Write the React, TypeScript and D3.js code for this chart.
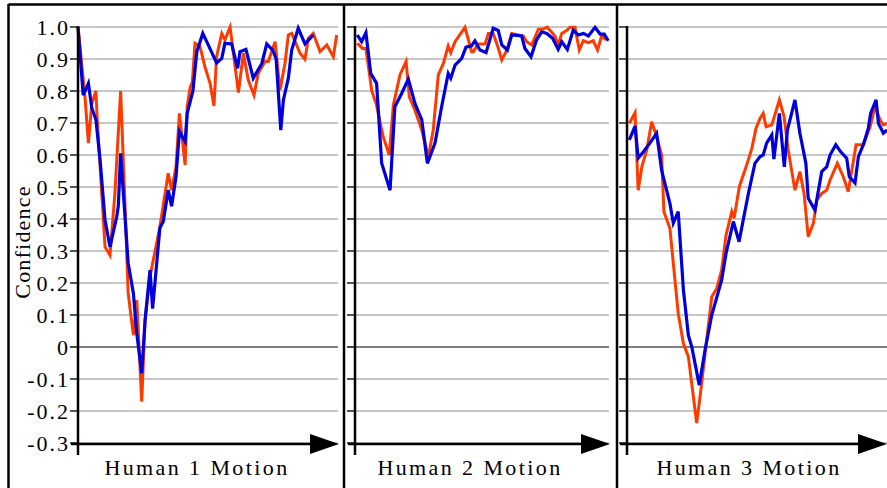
import React from "react";
import * as d3 from "d3";

// [frame, confidence] pairs, frame runs 0..100 across each panel
const human1Red: [number, number][] = [
  [0, 1.0], [2.7, 0.78], [4.0, 0.637], [5.3, 0.76], [6.9, 0.8], [7.4, 0.71], [10.4, 0.313], [12.3, 0.287],
  [14.2, 0.48], [16.4, 0.8], [18.1, 0.44], [19.3, 0.168], [21.3, 0.037], [22.6, 0.147], [24.5, -0.171],
  [25.8, 0.084], [27.7, 0.22], [31.5, 0.376], [34.7, 0.543], [36.0, 0.49], [37.7, 0.563], [39.0, 0.73],
  [41.2, 0.569], [42.0, 0.751], [43.1, 0.81], [44.0, 0.83], [45.0, 0.949], [46.9, 0.94], [48.8, 0.876],
  [50.8, 0.824], [52.3, 0.753], [53.3, 0.907], [55.3, 0.98], [56.5, 0.96], [58.5, 1.0], [61.7, 0.795],
  [63.6, 0.918], [65.5, 0.834], [67.7, 0.787], [69.3, 0.855], [71.9, 0.892], [73.2, 0.892], [75.8, 0.954],
  [77.7, 0.803], [79.6, 0.886], [80.9, 0.975], [82.2, 0.98], [85.4, 0.918], [87.3, 0.899], [88.6, 0.965],
  [90.5, 0.98], [93.1, 0.923], [95.7, 0.944], [98.2, 0.907], [99.5, 0.975],
];
const human1Blue: [number, number][] = [
  [0, 1.0], [2.0, 0.787], [4.0, 0.824], [5.3, 0.747], [6.9, 0.71], [8.5, 0.584], [10.4, 0.397], [12.3, 0.313],
  [14.9, 0.407], [15.5, 0.44], [16.4, 0.605], [19.3, 0.262], [21.3, 0.168], [22.6, 0.043], [24.5, -0.082],
  [25.8, 0.084], [27.7, 0.24], [28.7, 0.12], [31.5, 0.372], [32.8, 0.392], [34.7, 0.49], [36.0, 0.44],
  [37.7, 0.532], [39.0, 0.673], [41.2, 0.642], [42.0, 0.73], [44.2, 0.8], [45.7, 0.923], [48.0, 0.98],
  [50.1, 0.944], [53.3, 0.888], [55.3, 0.902], [56.5, 0.949], [59.1, 0.947], [61.4, 0.871], [62.3, 0.923],
  [64.6, 0.93], [67.4, 0.84], [70.7, 0.886], [72.6, 0.947], [74.9, 0.928], [76.2, 0.9], [78.0, 0.678],
  [79.0, 0.772], [80.9, 0.84], [82.2, 0.928], [84.7, 0.996], [87.3, 0.947], [90.5, 0.975],
];

const human2Red: [number, number][] = [
  [0.9, 0.949], [3.0, 0.933], [4.3, 0.933], [6.6, 0.8], [8.5, 0.756], [11.1, 0.657], [13.5, 0.6], [15.1, 0.756],
  [17.7, 0.85], [20.1, 0.892], [21.4, 0.782], [23.6, 0.74], [26.3, 0.678], [28.9, 0.595], [30.8, 0.678],
  [32.8, 0.85], [34.8, 0.886], [36.7, 0.941], [37.7, 0.92], [39.4, 0.954], [43.3, 0.999], [45.9, 0.923],
  [46.6, 0.923], [48.5, 0.947], [51.2, 0.947], [52.5, 0.98], [54.4, 0.98], [56.0, 0.944], [57.8, 0.897],
  [59.8, 0.928], [61.7, 0.98], [66.3, 0.972], [67.6, 0.954], [69.6, 0.944], [72.2, 0.993], [73.9, 0.993],
  [75.7, 1.0], [78.7, 0.972], [80.0, 0.944], [81.4, 0.98], [83.3, 0.989], [84.6, 0.999], [86.6, 0.999],
  [88.3, 0.928], [89.9, 0.957], [91.9, 0.951], [93.8, 0.957], [95.5, 0.928], [97.1, 0.972], [98.8, 0.96],
];
const human2Blue: [number, number][] = [
  [0.9, 0.975], [2.6, 0.954], [4.3, 0.982], [6.2, 0.855], [8.5, 0.824], [10.5, 0.574], [13.8, 0.49], [15.7, 0.751],
  [18.4, 0.793], [21.0, 0.837], [23.6, 0.761], [26.3, 0.71], [28.5, 0.574], [31.5, 0.637], [34.1, 0.751],
  [36.7, 0.855], [37.7, 0.84], [39.4, 0.881], [42.0, 0.902], [43.7, 0.937], [45.9, 0.941], [47.2, 0.957],
  [49.2, 0.928], [51.6, 0.92], [54.4, 0.996], [56.4, 0.989], [57.8, 0.944], [60.0, 0.928], [61.7, 0.975],
  [65.6, 0.972], [66.9, 0.933], [69.3, 0.907], [71.5, 0.96], [73.5, 0.985], [75.5, 0.98], [77.8, 0.965],
  [80.0, 0.93], [81.4, 0.954], [83.6, 0.93], [85.9, 0.99], [87.9, 0.975], [89.9, 0.98], [91.9, 0.972],
  [94.5, 0.999], [96.5, 0.978], [98.1, 0.978], [99.7, 0.957],
];

const human3Red: [number, number][] = [
  [0.9, 0.699], [3.1, 0.732], [4.3, 0.49], [5.7, 0.563], [7.6, 0.616], [9.5, 0.704], [11.4, 0.657], [13.3, 0.6],
  [14.2, 0.423], [16.5, 0.371], [19.7, 0.105], [21.7, 0.011], [23.6, -0.03], [26.8, -0.238], [28.1, -0.155],
  [32.6, 0.157], [34.5, 0.183], [36.4, 0.24], [38.1, 0.35], [40.3, 0.423], [41.2, 0.402], [43.2, 0.501],
  [45.8, 0.563], [48.0, 0.62], [49.6, 0.683], [51.2, 0.715], [52.4, 0.73], [53.5, 0.688], [55.7, 0.694],
  [58.6, 0.772], [60.4, 0.72], [62.0, 0.616], [64.6, 0.49], [66.5, 0.548], [68.1, 0.48], [69.7, 0.345],
  [71.7, 0.387], [73.0, 0.459], [74.9, 0.48], [76.8, 0.49], [78.1, 0.522], [80.9, 0.574], [83.2, 0.532],
  [85.1, 0.485], [88.1, 0.632], [90.9, 0.632], [93.5, 0.688], [95.4, 0.751], [97.3, 0.71], [98.6, 0.694],
  [100, 0.699],
];
const human3Blue: [number, number][] = [
  [0.9, 0.647], [3.1, 0.69], [4.3, 0.59], [6.3, 0.61], [8.8, 0.637], [11.4, 0.668], [13.3, 0.553], [16.5, 0.449],
  [17.8, 0.387], [19.7, 0.423], [21.7, 0.178], [23.6, 0.037], [24.9, 0.001], [27.8, -0.119], [30.0, -0.01],
  [32.6, 0.1], [36.4, 0.209], [38.1, 0.293], [40.9, 0.392], [43.1, 0.329], [44.7, 0.397], [46.7, 0.48],
  [49.2, 0.574], [51.2, 0.595], [52.4, 0.6], [53.7, 0.637], [55.7, 0.663], [56.5, 0.587], [58.6, 0.73],
  [60.5, 0.563], [61.7, 0.678], [64.6, 0.772], [66.5, 0.668], [68.8, 0.574], [69.7, 0.465], [72.3, 0.428],
  [74.9, 0.548], [76.8, 0.563], [78.1, 0.6], [80.3, 0.632], [82.2, 0.61], [84.5, 0.59], [85.5, 0.532],
  [87.7, 0.513], [89.0, 0.595], [90.9, 0.632], [92.8, 0.683], [93.7, 0.73], [95.8, 0.772], [96.7, 0.699],
  [98.6, 0.668], [100, 0.678],
];

const yTicks = [1.0, 0.9, 0.8, 0.7, 0.6, 0.5, 0.4, 0.3, 0.2, 0.1, 0, -0.1, -0.2, -0.3];
const yTickLabels = ["1.0", "0.9", "0.8", "0.7", "0.6", "0.5", "0.4", "0.3", "0.2", "0.1", "0", "-0.1", "-0.2", "-0.3"];
const panelLabels = ["Human 1 Motion", "Human 2 Motion", "Human 3 Motion"];
const yLabel = "Confidence";

const RED = "#ff3a00";
const BLUE = "#0000dd";
const FONT = "'Liberation Serif'";

const W = 887;
const H = 488;

// layout of the three panels (pixels)
const panels = [
  { left: 78, right: 338, labelX: 197, red: human1Red, blue: human1Blue },
  { left: 355, right: 609, labelX: 470, red: human2Red, blue: human2Blue },
  { left: 627, right: 887, labelX: 749, red: human3Red, blue: human3Blue },
];
const dividers = [344, 617];

const y = d3.scaleLinear().domain([-0.3, 1.0]).range([443, 27]);

export default function App() {
  return (
    <svg width={W} height={H} style={{ position: "absolute", left: 0, top: 0, background: "#fff" }}>
      <rect x={0} y={0} width={W} height={H} fill="#fff" />
      {panels.map((p, pi) => {
        const x = d3.scaleLinear().domain([0, 100]).range([p.left, p.right]);
        const line = d3
          .line<[number, number]>()
          .x((d) => x(d[0]))
          .y((d) => y(d[1]));
        const gridEnd = pi === 2 ? W : p.right;
        const arrowTip = pi === 2 ? W : p.right + 1;
        const axisY = y(-0.3) + 1;
        return (
          <g key={pi}>
            {yTicks.map((t, i) => (
              <line
                key={i}
                x1={p.left - 8}
                x2={gridEnd}
                y1={y(t)}
                y2={y(t)}
                stroke={t === 0 ? "#555" : "#b4b4b4"}
                strokeWidth={1.5}
              />
            ))}
            {yTicks.map((t, i) => (
              <line key={"t" + i} x1={p.left - 8} x2={p.left} y1={y(t)} y2={y(t)} stroke="#333" strokeWidth={1.5} />
            ))}
            <path d={line(p.red) ?? ""} fill="none" stroke={RED} strokeWidth={3} />
            <path d={line(p.blue) ?? ""} fill="none" stroke={BLUE} strokeWidth={3.2} />
            <line x1={p.left} x2={p.left} y1={y(1.0) - 1} y2={axisY + 11} stroke="#000" strokeWidth={2.5} />
            <line x1={p.left - 7} x2={arrowTip - 20} y1={axisY} y2={axisY} stroke="#000" strokeWidth={2.5} />
            <path
              d={`M${arrowTip - 29},${axisY - 10}L${arrowTip},${axisY}L${arrowTip - 29},${axisY + 10}Z`}
              fill="#000"
            />
            <text
              x={p.labelX}
              y={475}
              textAnchor="middle"
              fontSize={22}
              letterSpacing={2.4}
              style={{ fontFamily: FONT }}
              fill="#000"
            >
              {panelLabels[pi]}
            </text>
          </g>
        );
      })}
      {yTicks.map((t, i) => (
        <text
          key={i}
          x={70}
          y={y(t)}
          dy="0.35em"
          textAnchor="end"
          fontSize={22}
          letterSpacing={2}
          style={{ fontFamily: FONT }}
          fill="#000"
        >
          {yTickLabels[i]}
        </text>
      ))}
      <text
        transform={`translate(30,242) rotate(-90)`}
        textAnchor="middle"
        fontSize={22}
        letterSpacing={1.2}
        style={{ fontFamily: FONT }}
        fill="#000"
      >
        {yLabel}
      </text>
      {/* frame */}
      <line x1={8.5} x2={8.5} y1={4} y2={H} stroke="#000" strokeWidth={2.5} />
      <line x1={8.5} x2={W} y1={4.5} y2={4.5} stroke="#000" strokeWidth={2.5} />
      {dividers.map((dx, i) => (
        <line key={i} x1={dx} x2={dx} y1={4} y2={H} stroke="#000" strokeWidth={2.5} />
      ))}
    </svg>
  );
}
